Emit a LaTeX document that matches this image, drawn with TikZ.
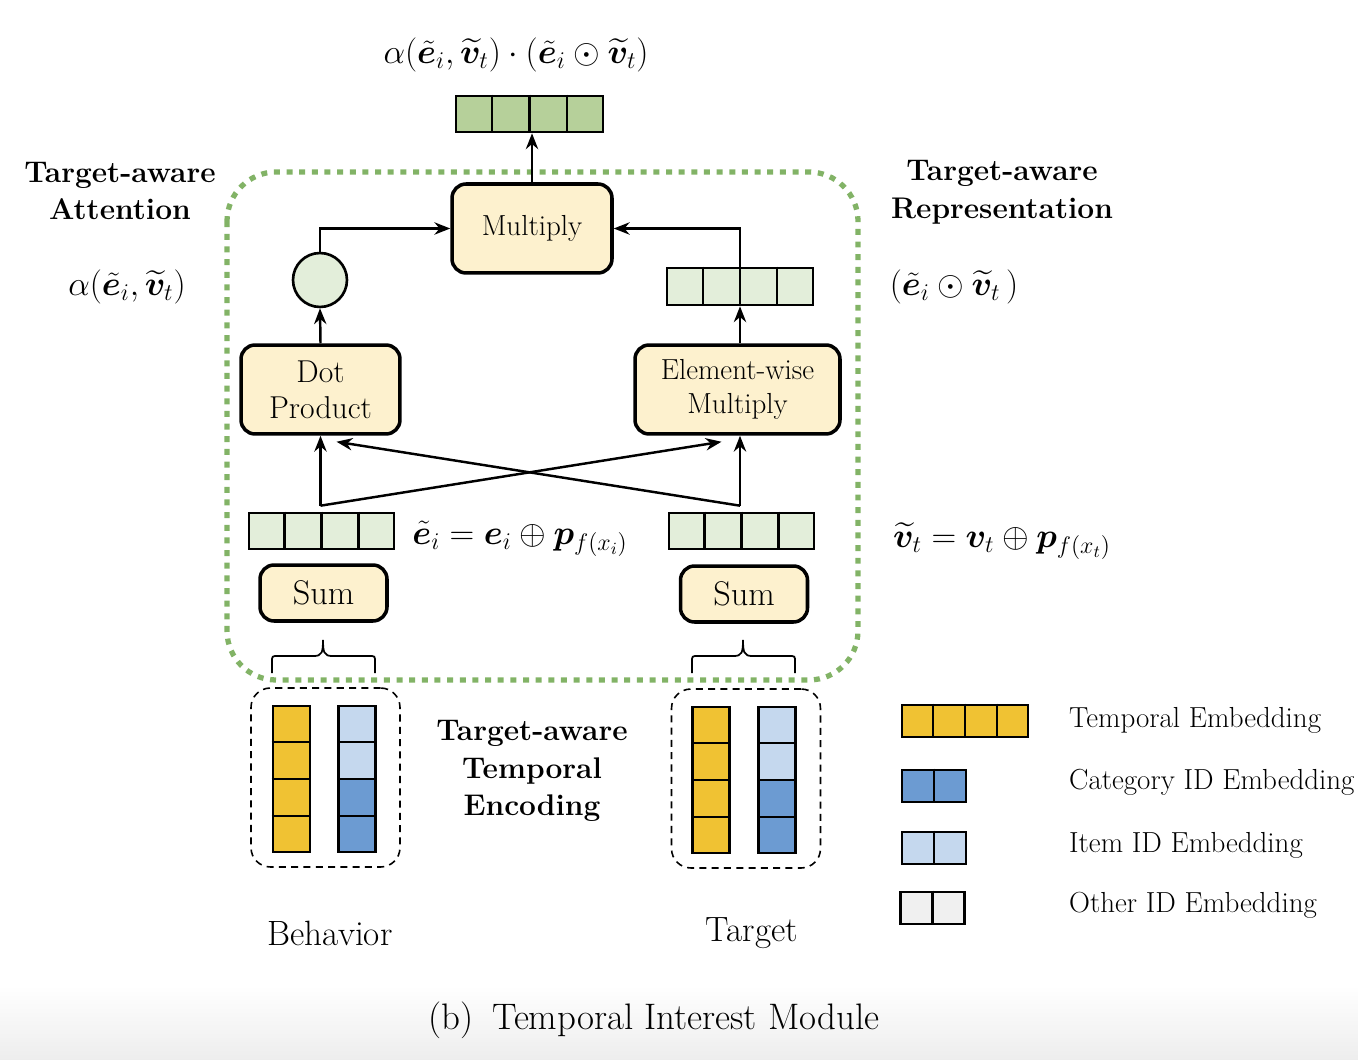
\RequirePackage{fix-cm}
\documentclass[tikz,border=0pt]{standalone}
\usepackage{amsmath}
\usepackage{amssymb}
\usepackage{bm}
\usetikzlibrary{arrows.meta,calc}

\definecolor{opcream}{HTML}{FDF1CE}
\definecolor{outgreen}{HTML}{B6D09A}
\definecolor{embgreen}{HTML}{E3EEDA}
\definecolor{frameGreen}{HTML}{82B366}
\definecolor{tempYellow}{HTML}{F0C233}
\definecolor{catBlue}{HTML}{6C9BD2}
\definecolor{itemBlue}{HTML}{C5D8EE}
\definecolor{otherGray}{HTML}{F0F0F0}

\begin{document}
\begin{tikzpicture}[x=0.02cm,y=-0.02cm,
	opbox/.style={draw,line width=2pt,rounded corners=8pt,fill=opcream,align=center,inner sep=0pt,font=\fontsize{16.5}{19}\selectfont},
	vec/.style={draw,line width=1.5pt,minimum height=0.72cm,inner sep=0pt},
	col/.style={draw,line width=1.5pt,minimum width=0.74cm,minimum height=2.92cm,inner sep=0pt},
	halfblue/.style={fill=itemBlue,path picture={\fill[catBlue] (path picture bounding box.west) rectangle (path picture bounding box.south east);}},
	grpbox/.style={draw,dash pattern=on 4pt off 3pt,line width=0.9pt,rounded corners=11pt,minimum width=2.98cm,minimum height=3.58cm,inner sep=0pt},
	arr/.style={-{Stealth[length=9pt,width=7pt]},line width=1.4pt},
	bracket/.style={line width=1pt},
	title/.style={font=\fontsize{17}{21.5}\selectfont\bfseries,align=center},
	formula/.style={font=\fontsize{19.5}{22}\selectfont},
	plain/.style={font=\fontsize{16.5}{19}\selectfont}]
	\useasboundingbox (0,0) rectangle (1358,1060);
	\fill[top color=white,bottom color=black!7] (0,985) rectangle (1358,1060);
	
	% Target-aware attention frame
	\draw[frameGreen,line width=3pt,dash pattern=on 3.4pt off 3.8pt,rounded corners=28pt] (227,172) rectangle (858,680);
	
	% Output and operations
	\node[formula] (outform) at (516,55) {$\alpha(\tilde{\bm{e}}_i,\widetilde{\bm{v}}_t)\cdot(\tilde{\bm{e}}_i\odot\widetilde{\bm{v}}_t)$};
	\node[vec,fill=outgreen,minimum width=2.94cm] (outvec) at (529.5,114) {};
	\node[opbox,minimum width=3.2cm,minimum height=1.78cm] (mult) at (532,228.5) {Multiply};
	\node[circle,draw,line width=1.5pt,fill=embgreen,minimum size=1.08cm,inner sep=0pt] (alpha) at (320,280) {};
	\node[vec,fill=embgreen,minimum width=2.92cm,minimum height=0.74cm] (repvec) at (740,286.5) {};
	\node[opbox,minimum width=3.18cm,minimum height=1.78cm,font=\fontsize{18}{20.5}\selectfont] (dot) at (320.5,389.5) {Dot\\Product};
	\node[opbox,minimum width=4.1cm,minimum height=1.78cm] (ew) at (737.5,389.5) {Element-wise\\Multiply};
	\node[vec,fill=embgreen,minimum width=2.9cm] (evec) at (321.5,531) {};
	\node[vec,fill=embgreen,minimum width=2.9cm] (vvec) at (741.5,531) {};
	\node[opbox,minimum width=2.54cm,minimum height=1.12cm,font=\fontsize{19.5}{22}\selectfont] (sumL) at (323.5,593) {Sum};
	\node[opbox,minimum width=2.54cm,minimum height=1.12cm,font=\fontsize{19.5}{22}\selectfont] (sumR) at (744,594) {Sum};
	\foreach \v in {outvec,repvec,evec,vvec}
		\foreach \k in {1,2,3}
			\draw[line width=1.5pt] ($(\v.north west)!\k/4!(\v.north east)$) -- ($(\v.south west)!\k/4!(\v.south east)$);
	
	% Side labels
	\node[title] (attlab) at (120,191) {Target-aware\\Attention};
	\node[title] (replab) at (1002,192) {Target-aware\\Representation};
	\node[formula] (alphaform) at (127,287) {$\alpha(\tilde{\bm{e}}_i,\widetilde{\bm{v}}_t)$};
	\node[formula] (repform) at (954,287) {$(\tilde{\bm{e}}_i\odot\widetilde{\bm{v}}_t\,)$};
	\node[formula] (eform) at (520,539) {$\tilde{\bm{e}}_i=\bm{e}_i\oplus\bm{p}_{f(x_i)}$};
	\node[formula] (vform) at (1002,541) {$\widetilde{\bm{v}}_t=\bm{v}_t\oplus\bm{p}_{f(x_t)}$};
	
	% Connectors
	\coordinate (ej) at ($(evec.north)+(-1,-6)$);
	\coordinate (vj) at ($(vvec.north)+(-1.5,-6)$);
	\draw[arr] (ej) -- (ej |- dot.south);
	\draw[arr] (ej) -- ($(ew.south)+(-16,6)$);
	\draw[arr] (vj) -- (vj |- ew.south);
	\draw[arr] (vj) -- ($(dot.south)+(16,6)$);
	\draw[arr] (dot.north) -- (alpha.south);
	\draw[arr] (repvec.south |- ew.north) -- (repvec.south);
	\draw[arr] (alpha.north) |- (mult.west);
	\draw[arr] (repvec.north) |- (mult.east);
	\draw[arr] (mult.north) -- (mult.north |- outvec.south);
	
	% Behavior and target inputs
	\node[grpbox] (bgrp) at (325.5,777.5) {};
	\node[grpbox] (tgrp) at (746,778.5) {};
	\node[col,fill=tempYellow] (bY) at (291.5,779) {};
	\node[col,halfblue] (bB) at (357,779) {};
	\node[col,fill=tempYellow] (tY) at (711,780) {};
	\node[col,halfblue] (tB) at (777,780) {};
	\foreach \c in {bY,bB,tY,tB}
		\foreach \k in {1,2,3}
			\draw[line width=1.5pt] ($(\c.north west)!\k/4!(\c.south west)$) -- ($(\c.north east)!\k/4!(\c.south east)$);
	\foreach \bx in {323,743}{
		\draw[bracket] (\bx-51,673) -- (\bx-51,662) .. controls (\bx-51,656) .. (\bx-45,656) -- (\bx-9,656) .. controls (\bx-1,656) and (\bx,652) .. (\bx,640);
		\draw[bracket] (\bx+52,673) -- (\bx+52,662) .. controls (\bx+52,656) .. (\bx+46,656) -- (\bx+9,656) .. controls (\bx+1,656) and (\bx,652) .. (\bx,640);
	}
	\node[font=\fontsize{20}{23}\selectfont] (blab) at (330,933) {Behavior};
	\node[font=\fontsize{20}{23}\selectfont] (tlab) at (752,933) {Target};
	\node[title] (enclab) at (532,771) {Target-aware\\Temporal\\Encoding};
	
	% Legend
	\node[vec,fill=tempYellow,minimum width=2.52cm,minimum height=0.64cm] (lgT) at (965,721) {};
	\node[vec,fill=catBlue,minimum width=1.28cm,minimum height=0.64cm] (lgC) at (934,786) {};
	\node[vec,fill=itemBlue,minimum width=1.28cm,minimum height=0.64cm] (lgI) at (934,848) {};
	\node[vec,fill=otherGray,minimum width=1.28cm,minimum height=0.64cm] (lgO) at (932.5,908) {};
	\foreach \k in {1,2,3}
		\draw[line width=1.5pt] ($(lgT.north west)!\k/4!(lgT.north east)$) -- ($(lgT.south west)!\k/4!(lgT.south east)$);
	\foreach \v in {lgC,lgI,lgO}
		\draw[line width=1.5pt] (\v.north) -- (\v.south);
	\node[plain,anchor=west] (lgTt) at (1063,720) {Temporal Embedding};
	\node[plain,anchor=west] (lgCt) at (1063,782) {Category ID Embedding};
	\node[plain,anchor=west] (lgIt) at (1063,845) {Item ID Embedding};
	\node[plain,anchor=west] (lgOt) at (1063,905) {Other ID Embedding};
	
	% Caption
	\node[font=\fontsize{21}{24}\selectfont] (caption) at (654,1020) {(b)\enspace Temporal Interest Module};
\end{tikzpicture}
\end{document}
